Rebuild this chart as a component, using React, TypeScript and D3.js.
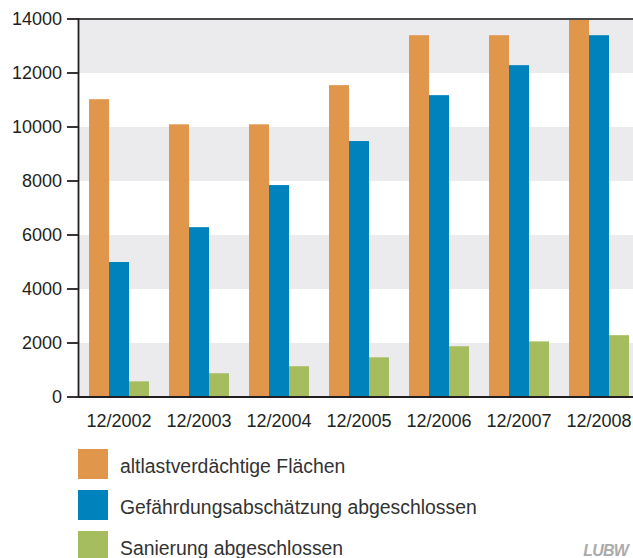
import React from 'react';
import * as d3 from 'd3';

const years = ['12/2002', '12/2003', '12/2004', '12/2005', '12/2006', '12/2007', '12/2008'];
const altlast = [11030, 10100, 10100, 11550, 13400, 13400, 14000];
const gefaehrdung = [5000, 6290, 7850, 9480, 11180, 12290, 13400];
const sanierung = [580, 880, 1140, 1470, 1880, 2060, 2290];
const seriesNames = ['altlastverdächtige Flächen', 'Gefährdungsabschätzung abgeschlossen', 'Sanierung abgeschlossen'];
const colors = ['#E0974C', '#0083BC', '#A5BD5E'];
const yTicks = [0, 2000, 4000, 6000, 8000, 10000, 12000, 14000];

const W = 633;
const H = 558;
const left = 79;
const top = 19;
const bottom = 397;
const font = '"Liberation Sans", Arial, sans-serif';

const App: React.FC = () => {
  const series = [altlast, gefaehrdung, sanierung];

  const y = d3.scaleLinear().domain([0, 14000]).range([bottom, top]);
  const x0 = d3.scaleBand<string>()
    .domain(years)
    .range([left, left + 80 * years.length])
    .paddingInner(0.25)
    .paddingOuter(0.125);
  const x1 = d3.scaleBand<number>()
    .domain([0, 1, 2])
    .range([0, x0.bandwidth()]);

  return (
    <div style={{ position: 'absolute', left: 0, top: 0 }}>
      <svg width={W} height={H} style={{ display: 'block', background: '#fff' }}>
        {/* alternating bands */}
        {yTicks.slice(0, -1).map((t, i) => i % 2 === 0 && (
          <rect key={t} x={left} y={y(yTicks[i + 1])} width={W - left} height={y(t) - y(yTicks[i + 1])} fill="#EBEBED" />
        ))}
        {/* bars */}
        {years.map((yr, i) => (
          <g key={yr} transform={`translate(${x0(yr)},0)`}>
            {series.map((s, k) => (
              <rect key={k} x={x1(k)} y={y(s[i])} width={x1.bandwidth()} height={y(0) - y(s[i])} fill={colors[k]} />
            ))}
          </g>
        ))}
        {/* top line */}
        <line x1={left} x2={W} y1={y(14000)} y2={y(14000)} stroke="#4a4a4a" strokeWidth={1.8} />
        {/* axes */}
        <line x1={left} x2={W} y1={bottom} y2={bottom} stroke="#231f20" strokeWidth={2.2} />
        <line x1={left - 0.5} x2={left - 0.5} y1={top - 1} y2={bottom + 1} stroke="#231f20" strokeWidth={1.8} />
        {yTicks.map(t => (
          <g key={t}>
            <line x1={67} x2={left} y1={y(t)} y2={y(t)} stroke="#231f20" strokeWidth={1.8} />
            <text x={62} y={y(t)} dy="0.36em" textAnchor="end" fontFamily={font} fontSize={18} fill="#231f20">{t}</text>
          </g>
        ))}
        {years.map(yr => (
          <text key={yr} x={(x0(yr) as number) + x0.bandwidth() / 2} y={427} textAnchor="middle" fontFamily={font} fontSize={18} fill="#231f20">{yr}</text>
        ))}
        {/* legend */}
        {seriesNames.map((n, k) => (
          <g key={n} transform={`translate(78,${449 + 41 * k})`}>
            <rect width={30} height={30} fill={colors[k]} />
            <text x={42} y={23.5} fontFamily={font} fontSize={19.4} fill="#333">{n}</text>
          </g>
        ))}
        <text x={628} y={556} textAnchor="end" fontFamily={font} fontSize={16} fontStyle="italic" fontWeight="bold" fill="#ababab" letterSpacing={-0.8}>LUBW</text>
      </svg>
    </div>
  );
};

export default App;
